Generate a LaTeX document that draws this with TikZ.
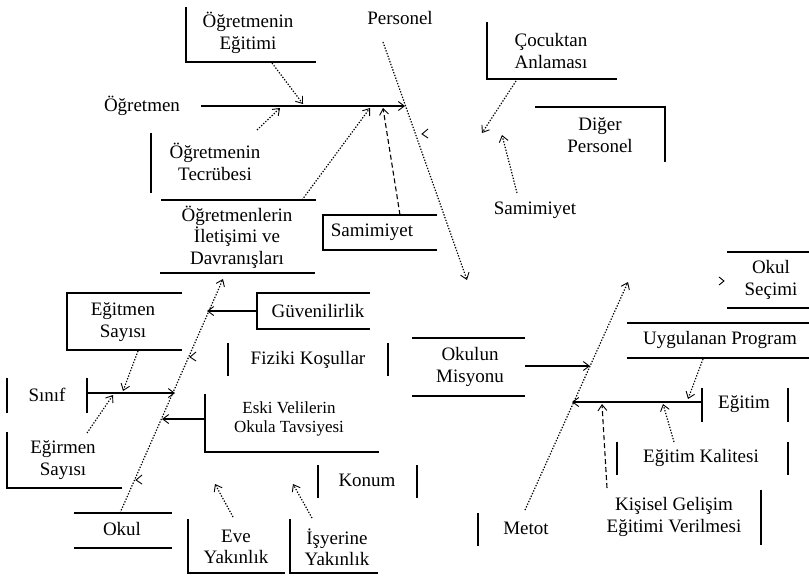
\documentclass[tikz,border=0pt]{standalone}
\usepackage{fontspec}
\setmainfont{Liberation Serif}
\usetikzlibrary{arrows.meta}
\begin{document}
\begin{tikzpicture}[x=1pt,y=-1pt,
  lbl/.style={align=center,inner sep=0pt,font=\fontsize{19}{21.5}\selectfont},
  lblsm/.style={align=center,inner sep=0pt,font=\fontsize{17}{19}\selectfont},
  frame/.style={line width=1.4pt},
  tip/.style={-{Straight Barb[length=6pt,width=9pt,line width=0.9pt]}},
  solidarrow/.style={tip,line width=1.4pt},
  dotarrow/.style={tip,line width=1.2pt,dash pattern=on 1.3pt off 1.6pt},
  dasharrow/.style={tip,line width=1.1pt,dash pattern=on 5pt off 3pt},
  barb/.style={line width=0.9pt}]
\useasboundingbox (0,0) rectangle (809,576);

% ---------- text nodes ----------
\node[lbl] (oe) at (248,33) {Öğretmenin\\Eğitimi};
\node[lbl] (pers) at (400,18) {Personel};
\node[lbl] (ogr) at (142,106) {Öğretmen};
\node[lbl] (otec) at (215,162) {Öğretmenin\\Tecrübesi};
\node[lbl] (oil) at (237,237) {Öğretmenlerin\\İletişimi ve\\Davranışları};
\node[lbl] (sam1) at (372,232) {Samimiyet};
\node[lbl] (coc) at (551,51) {Çocuktan\\Anlaması};
\node[lbl] (dig) at (600,135) {Diğer\\Personel};
\node[lbl] (sam2) at (535,210) {Samimiyet};
\node[lbl] (egs) at (123,322) {Eğitmen\\Sayısı};
\node[lbl] (guv) at (318,311) {Güvenilirlik};
\node[lbl] (fiz) at (308,360) {Fiziki Koşullar};
\node[lbl] (mis) at (470,367) {Okulun\\Misyonu};
\node[lbl] (sin) at (47,395) {Sınıf};
\node[lbl] (egr) at (63,460) {Eğirmen\\Sayısı};
\node[lblsm] (esk) at (289,419) {Eski Velilerin\\Okula Tavsiyesi};
\node[lbl] (kon) at (367,480) {Konum};
\node[lbl] (okul) at (122,529) {Okul};
\node[lbl] (eve) at (236,547) {Eve\\Yakınlık};
\node[lbl] (isy) at (337,547) {İşyerine\\Yakınlık};
\node[lbl] (sec) at (771,280) {Okul\\Seçimi};
\node[lbl] (uyg) at (720,340) {Uygulanan Program};
\node[lbl] (egt) at (744,404) {Eğitim};
\node[lbl] (kal) at (701,458) {Eğitim Kalitesi};
\node[lbl] (kis) at (674,517) {Kişisel Gelişim\\Eğitimi Verilmesi};
\node[lbl] (met) at (526,528) {Metot};

% ---------- frames ----------
\draw[frame] (186,7) -- (186,62) -- (316,62);
\draw[frame] (151,133) -- (151,193);
\draw[frame] (161,200) -- (316,200);
\draw[frame] (160,273) -- (315,273);
\draw[frame] (437,215) -- (323,215) -- (323,250) -- (437,250);
\draw[frame] (487,22) -- (487,79) -- (617,79);
\draw[frame] (535,107) -- (665,107) -- (665,162);
\draw[frame] (182,293) -- (67,293) -- (67,350) -- (182,350);
\draw[frame] (370,293) -- (257,293) -- (257,329) -- (370,329);
\draw[frame] (228,343) -- (228,376);
\draw[frame] (388,343) -- (388,376);
\draw[frame] (412,338) -- (525,338);
\draw[frame] (412,396) -- (525,396);
\draw[frame] (7,378) -- (7,413);
\draw[frame] (87,378) -- (87,413);
\draw[frame] (7,432) -- (7,488) -- (122,488);
\draw[frame] (205,394) -- (205,452) -- (379,452);
\draw[frame] (318,465) -- (318,498);
\draw[frame] (417,465) -- (417,498);
\draw[frame] (74,513) -- (172,513);
\draw[frame] (74,548) -- (172,548);
\draw[frame] (188,519) -- (188,573) -- (285,573);
\draw[frame] (290,519) -- (290,573) -- (378,573);
\draw[frame] (727,252) -- (809,252);
\draw[frame] (727,308) -- (809,308);
\draw[frame] (627,323) -- (809,323);
\draw[frame] (627,358) -- (809,358);
\draw[frame] (702,388) -- (702,422);
\draw[frame] (788,388) -- (788,422);
\draw[frame] (617,442) -- (617,475);
\draw[frame] (788,442) -- (788,475);
\draw[frame] (761,490) -- (761,545);
\draw[frame] (478,513) -- (478,546);

% ---------- connector end points ----------
\coordinate (ogrS) at (201,106);  \coordinate (ogrE) at (405,106);
\coordinate (sinS) at (87,393);   \coordinate (sinE) at (175,393);
\coordinate (guvS) at (257,311);  \coordinate (guvE) at (207,311);
\coordinate (eskS) at (205,419);  \coordinate (eskE) at (162,419);
\coordinate (misS) at (525,366);  \coordinate (misE) at (590,366);
\coordinate (egtS) at (702,402);  \coordinate (egtE) at (572,402);
\coordinate (persS) at (383,42);  \coordinate (persE) at (467,280);
\coordinate (okulS) at (120,513); \coordinate (okulE) at (223,279);
\coordinate (metS) at (525,510);  \coordinate (metE) at (628,282);

% ---------- spines ----------
\draw[solidarrow] (ogrS) -- (ogrE);
\draw[solidarrow] (sinS) -- (sinE);
\draw[solidarrow] (guvS) -- (guvE);
\draw[solidarrow] (eskS) -- (eskE);
\draw[solidarrow] (misS) -- (misE);
\draw[solidarrow] (egtS) -- (egtE);
\draw[dotarrow] (persS) -- (persE);
\draw[dotarrow] (okulS) -- (okulE);
\draw[dotarrow] (metS) -- (metE);

% ---------- causes ----------
\draw[dotarrow] (272,63) -- (303,104);
\draw[dotarrow] (257,130) -- (280,108);
\draw[dotarrow] (302,200) -- (370,108);
\draw[dasharrow] (400,215) -- (383,108);
\draw[dotarrow] (516,81) -- (482,133);
\draw[dotarrow] (517,193) -- (502,135);
\draw[dotarrow] (138,351) -- (123,391);
\draw[dotarrow] (87,433) -- (113,395);
\draw[dotarrow] (233,517) -- (215,484);
\draw[dotarrow] (312,518) -- (293,484);
\draw[dotarrow] (703,359) -- (688,399);
\draw[dotarrow] (674,442) -- (663,404);
\draw[dasharrow] (607,488) -- (602,404);

% ---------- loose arrowheads ----------
\draw[barb] (428,129) -- (422,134) -- (428,138);
\draw[barb] (196,352) -- (190,357) -- (196,361);
\draw[barb] (142,475) -- (136,480) -- (142,484);
\draw[barb] (719,277) -- (724,281) -- (719,285);
\end{tikzpicture}
\end{document}
